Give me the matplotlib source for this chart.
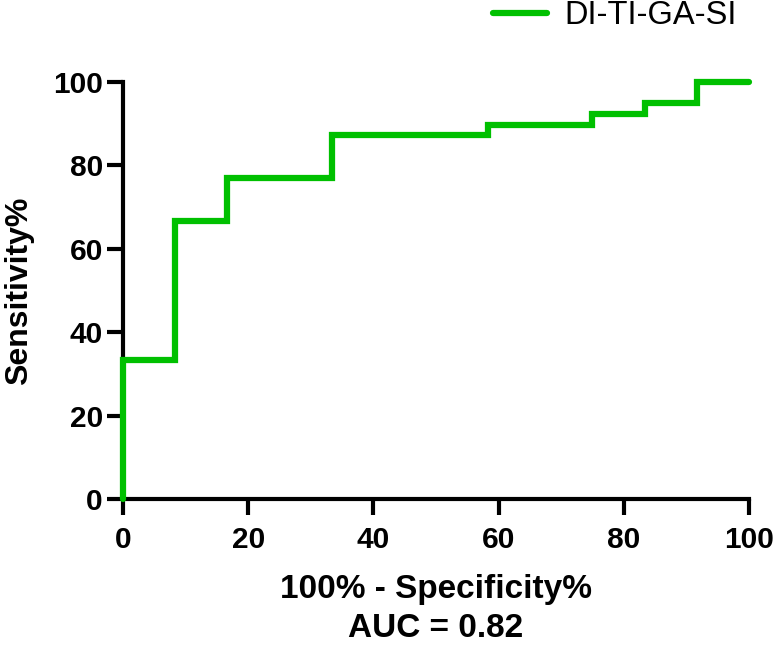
import matplotlib
matplotlib.use("Agg")
import matplotlib.pyplot as plt
from matplotlib import font_manager

# ROC step data (100% - Specificity%, Sensitivity%)
fpr = [0, 0, 8.33, 8.33, 16.67, 16.67, 33.33, 33.33, 58.33, 58.33, 75, 75, 83.33, 83.33, 91.67, 91.67, 100]
tpr = [0, 33.33, 33.33, 66.67, 66.67, 76.92, 76.92, 87.18, 87.18, 89.74, 89.74, 92.31, 92.31, 94.87, 94.87, 100, 100]
series_name = "DI-TI-GA-SI"
x_label = "100% - Specificity%"
y_label = "Sensitivity%"
auc_text = "AUC = 0.82"
ticks = [0, 20, 40, 60, 80, 100]

FAM = ["Liberation Sans", "DejaVu Sans"]
BF = dict(family=FAM, weight="bold")

fig = plt.figure(figsize=(7.78, 6.5), dpi=100)
ax = fig.add_axes([0.1581, 0.2323, 0.8046, 0.6415])
ax.plot(fpr, tpr, color="#00C000", lw=4.5, solid_capstyle="round", solid_joinstyle="miter",
        label=series_name, clip_on=False, zorder=3)
ax.set_xlim(0, 100)
ax.set_ylim(0, 100)
ax.set_xticks(ticks)
ax.set_yticks(ticks)
ax.set_xticklabels([str(t) for t in ticks], fontsize=21.5, **BF)
ax.set_yticklabels([str(t) for t in ticks], fontsize=21.5, **BF)
for s in ["top", "right"]:
    ax.spines[s].set_visible(False)
for s in ["left", "bottom"]:
    ax.spines[s].set_linewidth(3)
    ax.spines[s].set_capstyle("projecting")
ax.tick_params(axis="both", width=3, length=11.5)
ax.tick_params(axis="x", pad=8)
ax.tick_params(axis="y", pad=3)
ax.set_xlabel(x_label + "\n" + auc_text, fontsize=24, labelpad=14, linespacing=1.37, **BF)
ax.set_ylabel(y_label, fontsize=23, **BF)
ax.yaxis.set_label_coords(-0.142, 0.5)
leg = fig.legend(loc="upper left", bbox_to_anchor=(0.6337, 1.0), frameon=False,
                 prop=font_manager.FontProperties(family=FAM, size=23.5),
                 handlelength=1.65, handletextpad=0.55, borderpad=0, borderaxespad=0)
fig.savefig("out.png", dpi=100)
